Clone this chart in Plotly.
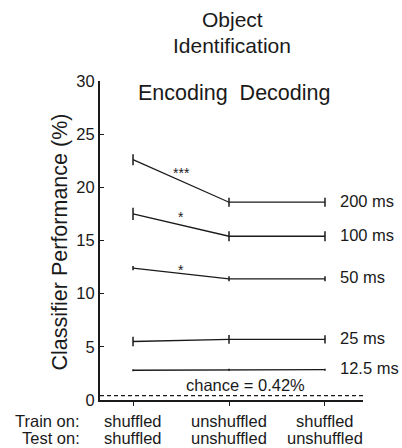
import plotly.graph_objects as go

# Conditions along the x axis (train/test regime)
positions = [0, 1, 2]
train_on = ["shuffled", "unshuffled", "shuffled"]
test_on = ["shuffled", "unshuffled", "unshuffled"]

# Classifier performance (%) per presentation duration, with SEM
durations = ["200 ms", "100 ms", "50 ms", "25 ms", "12.5 ms"]
perf_200 = [22.6, 18.6, 18.6]
err_200 = [0.52, 0.42, 0.42]
perf_100 = [17.5, 15.4, 15.4]
err_100 = [0.58, 0.47, 0.47]
perf_50 = [12.4, 11.4, 11.4]
err_50 = [0.2, 0.24, 0.24]
perf_25 = [5.5, 5.7, 5.7]
err_25 = [0.45, 0.42, 0.38]
perf_12 = [2.8, 2.85, 2.85]
err_12 = [0.1, 0.1, 0.1]

series = [perf_200, perf_100, perf_50, perf_25, perf_12]
errors = [err_200, err_100, err_50, err_25, err_12]

# Significance markers between shuffled and unshuffled training
sig_labels = ["***", "*", "*"]
sig_y = [21.35, 17.2, 12.2]

chance_level = 0.42

FONT = "Liberation Sans, Arial, Helvetica, sans-serif"
INK = "#1a1a1a"

fig = go.Figure()

for vals, errs, name in zip(series, errors, durations):
    fig.add_trace(go.Scatter(
        x=positions, y=vals, mode="lines", name=name,
        line=dict(color=INK, width=1.3),
        error_y=dict(type="data", array=errs, visible=True,
                     width=0, thickness=1.5, color=INK),
        showlegend=False, hoverinfo="skip",
    ))

# chance level
fig.add_trace(go.Scatter(
    x=[-0.344, 2.396], y=[chance_level, chance_level], mode="lines",
    line=dict(color=INK, width=1.2, dash="4px,3px"),
    showlegend=False, hoverinfo="skip",
))

annotations = []

# duration labels at the right end of each line
for vals, name in zip(series, durations):
    annotations.append(dict(
        x=2.135, y=vals[-1], xref="x", yref="y", text=name,
        showarrow=False, xanchor="left", yanchor="middle", yshift=1.5,
        font=dict(size=16.5, color=INK, family=FONT),
    ))

for lab, yy in zip(sig_labels, sig_y):
    annotations.append(dict(
        x=0.5, y=yy, xref="x", yref="y", text=lab, showarrow=False,
        xanchor="center", yanchor="middle",
        font=dict(size=14, color=INK, family=FONT),
    ))

annotations.append(dict(
    x=1.177, y=1.41, xref="x", yref="y",
    text="chance = %.2f%%" % chance_level, showarrow=False,
    xanchor="center", yanchor="middle",
    font=dict(size=16.5, color=INK, family=FONT),
))

# two-row category labels under the axis
row_y = [-0.0658, -0.119]
row_names = ["Train on:", "Test on:"]
for ry, rname, row in zip(row_y, row_names, [train_on, test_on]):
    annotations.append(dict(
        x=-0.0684, y=ry, xref="paper", yref="paper", text=rname,
        showarrow=False, xanchor="right", yanchor="middle",
        font=dict(size=16.5, color=INK, family=FONT),
    ))
    for p, lab in zip(positions, row):
        annotations.append(dict(
            x=p, y=ry, xref="x", yref="paper", text=lab,
            showarrow=False, xanchor="center", yanchor="middle",
            font=dict(size=16.5, color=INK, family=FONT),
        ))

# titles
annotations.append(dict(
    x=0.502, y=1.1925, xref="paper", yref="paper", text="Object",
    showarrow=False, xanchor="center", yanchor="middle",
    font=dict(size=21, color=INK, family=FONT),
))
annotations.append(dict(
    x=0.502, y=1.111, xref="paper", yref="paper", text="Identification",
    showarrow=False, xanchor="center", yanchor="middle",
    font=dict(size=21, color=INK, family=FONT),
))
annotations.append(dict(
    x=0.5095, y=0.9636, xref="paper", yref="paper",
    text="Encoding\u00a0\u00a0Decoding",
    showarrow=False, xanchor="center", yanchor="middle",
    font=dict(size=21.5, color=INK, family=FONT),
))
annotations.append(dict(
    x=-0.152, y=0.494, xref="paper", yref="paper",
    text="Classifier Performance (%)", textangle=-90,
    showarrow=False, xanchor="center", yanchor="middle",
    font=dict(size=21.5, color=INK, family=FONT),
))

fig.update_layout(
    width=402, height=448,
    margin=dict(l=100, r=39, t=81, b=48),
    paper_bgcolor="white", plot_bgcolor="white",
    font=dict(family=FONT, color=INK),
    annotations=annotations,
    showlegend=False,
)
fig.update_xaxes(
    range=[-0.344, 2.396], tickvals=positions, showticklabels=False,
    ticks="outside", ticklen=4, tickwidth=1.2, tickcolor=INK,
    showline=True, linecolor=INK, linewidth=2, showgrid=False,
    zeroline=False, fixedrange=True,
)
fig.update_yaxes(
    range=[0, 30], tickvals=[0, 5, 10, 15, 20, 25, 30],
    ticks="inside", ticklen=4, tickwidth=1.2, tickcolor=INK,
    tickfont=dict(size=16.5, color=INK, family=FONT),
    showline=True, linecolor=INK, linewidth=2, showgrid=False,
    zeroline=False, fixedrange=True,
)

fig.write_html("out.html")
